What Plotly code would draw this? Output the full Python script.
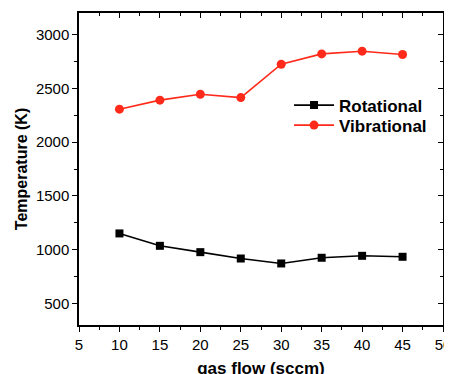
import plotly.graph_objects as go

gas_flow = [10, 15, 20, 25, 30, 35, 40, 45]
rotational = [1151, 1036, 977, 918, 872, 925, 943, 934]
vibrational = [2306, 2390, 2445, 2414, 2724, 2820, 2845, 2814]

x_ticks = [5, 10, 15, 20, 25, 30, 35, 40, 45, 50]
x_minor = [7.5, 12.5, 17.5, 22.5, 27.5, 32.5, 37.5, 42.5, 47.5]
y_ticks = [500, 1000, 1500, 2000, 2500, 3000]
y_minor = [750, 1250, 1750, 2250, 2750]

font = "Liberation Sans, Arial, sans-serif"

fig = go.Figure()
fig.add_trace(go.Scatter(x=gas_flow, y=rotational, mode="lines+markers", name="Rotational",
                         line=dict(color="black", width=1.6),
                         marker=dict(symbol="square", size=8, color="black"),
                         legend="legend"))
fig.add_trace(go.Scatter(x=gas_flow, y=vibrational, mode="lines+markers", name="Vibrational",
                         line=dict(color="#ff2a1a", width=1.6),
                         marker=dict(symbol="circle", size=9, color="#ff2a1a"),
                         legend="legend2"))
fig.add_trace(go.Scatter(x=[None], y=[None], xaxis="x2", yaxis="y2", showlegend=False))

leg_common = dict(xanchor="left", yanchor="top", bgcolor="rgba(0,0,0,0)",
                  font=dict(size=17, family=font, weight="bold"), itemwidth=40)

fig.update_layout(
    width=452, height=374,
    margin=dict(l=71, r=17, t=5, b=57),
    paper_bgcolor="white", plot_bgcolor="white",
    font=dict(family=font, size=15, color="black"),
    showlegend=True,
    legend=dict(x=0.577, y=0.761, **leg_common),
    legend2=dict(x=0.577, y=0.697, **leg_common),
    xaxis=dict(range=[5, 50], tickvals=x_ticks,
               ticks="outside", ticklen=5, tickwidth=1.2, tickcolor="black",
               showline=True, linecolor="black", linewidth=1.5, mirror=True,
               showgrid=False, zeroline=False, automargin=False,
               ticklabeloverflow="allow",
               minor=dict(tickvals=x_minor, ticks="outside", ticklen=3, tickcolor="black"),
               title=dict(text="gas flow (sccm)", font=dict(size=17, weight="bold"), standoff=10),
               tickfont=dict(size=15)),
    xaxis2=dict(range=[5, 50], overlaying="x", side="top", anchor="y",
                tickvals=x_ticks, showticklabels=False,
                ticks="inside", ticklen=5, tickwidth=1.2, tickcolor="black",
                showgrid=False, zeroline=False, showline=False, automargin=False,
                minor=dict(tickvals=x_minor, ticks="inside", ticklen=3, tickcolor="black")),
    yaxis=dict(range=[300, 3200], tickvals=y_ticks,
               ticks="outside", ticklen=5, tickwidth=1.2, tickcolor="black",
               showline=True, linecolor="black", linewidth=1.5, mirror=True,
               showgrid=False, zeroline=False, automargin=False,
               minor=dict(tickvals=y_minor, ticks="outside", ticklen=3, tickcolor="black"),
               title=dict(text="Temperature (K)", font=dict(size=16, weight="bold"), standoff=4),
               tickfont=dict(size=15)),
    yaxis2=dict(range=[300, 3200], overlaying="y", side="right", anchor="x",
                tickvals=y_ticks, showticklabels=False,
                ticks="inside", ticklen=5, tickwidth=1.2, tickcolor="black",
                showgrid=False, zeroline=False, showline=False, automargin=False,
                minor=dict(tickvals=y_minor, ticks="inside", ticklen=3, tickcolor="black")),
)

fig.write_html("out.html")
